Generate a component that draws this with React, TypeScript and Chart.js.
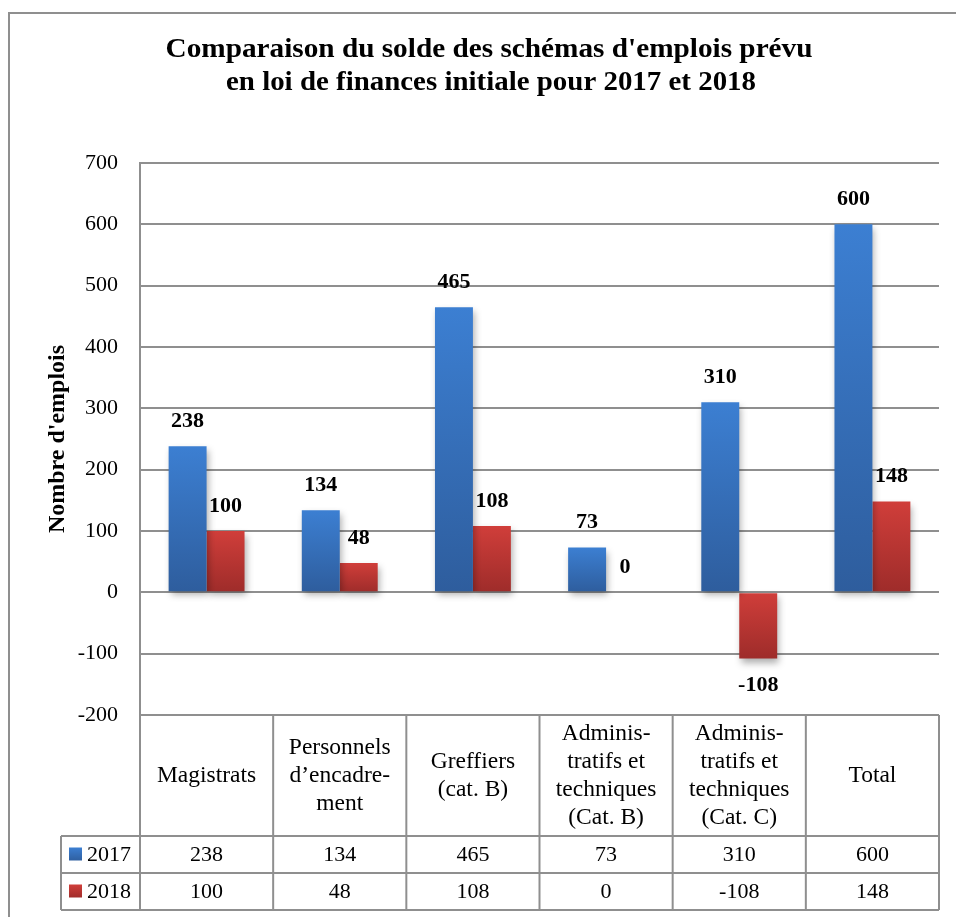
import React, { useEffect, useRef } from "react";
import { Chart, registerables } from "chart.js";

Chart.register(...registerables);

const TITLE_LINES = [
  "Comparaison du solde des schémas d'emplois prévu",
  "en loi de finances initiale pour 2017 et 2018",
];
const Y_TITLE = "Nombre d'emplois";
const CATEGORIES: string[][] = [
  ["Magistrats"],
  ["Personnels", "d’encadre-", "ment"],
  ["Greffiers", "(cat. B)"],
  ["Adminis-", "tratifs et", "techniques", "(Cat. B)"],
  ["Adminis-", "tratifs et", "techniques", "(Cat. C)"],
  ["Total"],
];
const SERIES_NAMES = ["2017", "2018"];
const VALUES_2017 = [238, 134, 465, 73, 310, 600];
const VALUES_2018 = [100, 48, 108, 0, -108, 148];
const Y_MIN = -200;
const Y_MAX = 700;
const Y_STEP = 100;

const SERIF = "'Liberation Serif', 'Times New Roman', serif";
const LINE = "#8f8f8f";
const BLUE_TOP = "#3c7fd2";
const BLUE_BOT = "#2e5d9d";
const RED_TOP = "#d03e3a";
const RED_BOT = "#9e2c2a";

function barGradient(top: string, bot: string) {
  return (c: any) => {
    const chart = c.chart;
    const area = chart.chartArea;
    if (!area || c.type !== "data") return top;
    const ys = chart.scales.y;
    const v = c.parsed ? c.parsed.y : c.raw;
    const p1 = ys.getPixelForValue(v);
    const p0 = ys.getPixelForValue(0);
    const a = Math.min(p0, p1);
    let b = Math.max(p0, p1);
    if (b - a < 1) b = a + 1;
    const g = chart.ctx.createLinearGradient(0, a, 0, b);
    g.addColorStop(0, top);
    g.addColorStop(1, bot);
    return g;
  };
}

function stretchedText(ctx: any, text: string, cx: number, cy: number, targetW: number) {
  const w = ctx.measureText(text).width;
  const s = Math.min(1.15, Math.max(0.9, targetW / w));
  ctx.save();
  ctx.translate(cx, cy);
  ctx.scale(s, 1);
  ctx.fillText(text, 0, 0);
  ctx.restore();
}

const decorPlugin = {
  id: "decor",
  beforeDatasetsDraw(chart: any) {
    const ctx = chart.ctx;
    ctx.save();
    ctx.shadowColor = "rgba(0,0,0,0.32)";
    ctx.shadowBlur = 7;
    ctx.shadowOffsetX = 2;
    ctx.shadowOffsetY = 4;
  },
  afterDatasetsDraw(chart: any) {
    chart.ctx.restore();
  },
  afterDraw(chart: any) {
    const ctx = chart.ctx;
    const area = chart.chartArea;
    const xs = chart.scales.x;
    const n = CATEGORIES.length;
    const catW = (area.right - area.left) / n;
    ctx.save();

    // outer frame
    ctx.strokeStyle = LINE;
    ctx.lineWidth = 2;
    ctx.beginPath();
    ctx.moveTo(9, chart.height);
    ctx.lineTo(9, 13);
    ctx.lineTo(chart.width, 13);
    ctx.stroke();

    // title
    ctx.fillStyle = "#000";
    ctx.textAlign = "center";
    ctx.textBaseline = "middle";
    ctx.font = `bold 27px ${SERIF}`;
    stretchedText(ctx, TITLE_LINES[0], 489, 50, 647);
    stretchedText(ctx, TITLE_LINES[1], 491, 83, 530);

    // y axis title
    ctx.save();
    ctx.translate(58, (area.top + area.bottom) / 2);
    ctx.rotate(-Math.PI / 2);
    ctx.font = `bold 24px ${SERIF}`;
    ctx.fillText(Y_TITLE, 0, 0);
    ctx.restore();

    // data labels
    ctx.font = `bold 22px ${SERIF}`;
    chart.data.datasets.forEach((ds: any, di: number) => {
      const meta = chart.getDatasetMeta(di);
      meta.data.forEach((el: any, i: number) => {
        const v = ds.data[i];
        const y = v >= 0 ? el.y - 25 : el.y + 27;
        ctx.fillText(String(v), el.x, y);
      });
    });

    // data table
    const headTop = area.bottom;
    const headBot = headTop + 121;
    const row1 = headBot + 37;
    const row2 = row1 + 37;
    const legLeft = 61;
    ctx.strokeStyle = LINE;
    ctx.lineWidth = 2;
    ctx.beginPath();
    ctx.moveTo(area.left, headTop);
    ctx.lineTo(area.right, headTop);
    [headBot, row1, row2].forEach((y) => {
      ctx.moveTo(legLeft, y);
      ctx.lineTo(area.right, y);
    });
    ctx.moveTo(legLeft, headBot);
    ctx.lineTo(legLeft, row2);
    for (let i = 0; i <= n; i++) {
      const x = area.left + catW * i;
      ctx.moveTo(x, headTop);
      ctx.lineTo(x, row2);
    }
    ctx.stroke();

    ctx.fillStyle = "#000";
    const lh = 28;
    const headMid = (headTop + headBot) / 2;
    CATEGORIES.forEach((lines, i) => {
      const cx = xs.getPixelForValue(i);
      const start = headMid - ((lines.length - 1) * lh) / 2;
      ctx.font = `23.5px ${SERIF}`;
      lines.forEach((t, k) => ctx.fillText(t, cx, start + k * lh));
      ctx.font = `22px ${SERIF}`;
      ctx.fillText(String(VALUES_2017[i]), cx, (headBot + row1) / 2 + 1);
      ctx.fillText(String(VALUES_2018[i]), cx, (row1 + row2) / 2 + 1);
    });

    // legend keys
    const keys = [
      [BLUE_TOP, BLUE_BOT, (headBot + row1) / 2],
      [RED_TOP, RED_BOT, (row1 + row2) / 2],
    ] as [string, string, number][];
    keys.forEach(([t, b, cy], k) => {
      const g = ctx.createLinearGradient(0, cy - 7, 0, cy + 7);
      g.addColorStop(0, t);
      g.addColorStop(1, b);
      ctx.fillStyle = g;
      ctx.fillRect(69, cy - 7, 13, 13);
      ctx.fillStyle = "#000";
      ctx.textAlign = "left";
      ctx.fillText(SERIES_NAMES[k], 87, cy + 1);
      ctx.textAlign = "center";
    });
    ctx.restore();
  },
};

export default function App() {
  const ref = useRef<HTMLCanvasElement | null>(null);
  useEffect(() => {
    if (!ref.current) return;
    const chart = new Chart(ref.current, {
      type: "bar",
      data: {
        labels: CATEGORIES.map((c) => c.join(" ")),
        datasets: [
          {
            label: SERIES_NAMES[0],
            data: VALUES_2017,
            backgroundColor: barGradient(BLUE_TOP, BLUE_BOT),
            categoryPercentage: 0.57,
            barPercentage: 1,
            borderWidth: 0,
          },
          {
            label: SERIES_NAMES[1],
            data: VALUES_2018,
            backgroundColor: barGradient(RED_TOP, RED_BOT),
            categoryPercentage: 0.57,
            barPercentage: 1,
            borderWidth: 0,
          },
        ],
      },
      options: {
        responsive: false,
        animation: false,
        layout: { padding: { left: 0, top: 163, right: 17, bottom: 202 } },
        plugins: {
          legend: { display: false },
          title: { display: false },
          tooltip: { enabled: false },
        },
        scales: {
          x: { display: false },
          y: {
            min: Y_MIN,
            max: Y_MAX,
            afterFit: (s: any) => {
              s.width = 140;
            },
            ticks: {
              stepSize: Y_STEP,
              padding: 22,
              color: "#000",
              font: { family: SERIF, size: 22 },
            },
            grid: { color: LINE, lineWidth: 2, drawTicks: false },
            border: { display: true, color: LINE, width: 2 },
          },
        },
      },
      plugins: [decorPlugin],
    });
    return () => chart.destroy();
  }, []);
  return (
    <div style={{ position: "absolute", left: 0, top: 0, width: 956, height: 917, background: "#fff" }}>
      <canvas ref={ref} width={956} height={917} />
    </div>
  );
}
